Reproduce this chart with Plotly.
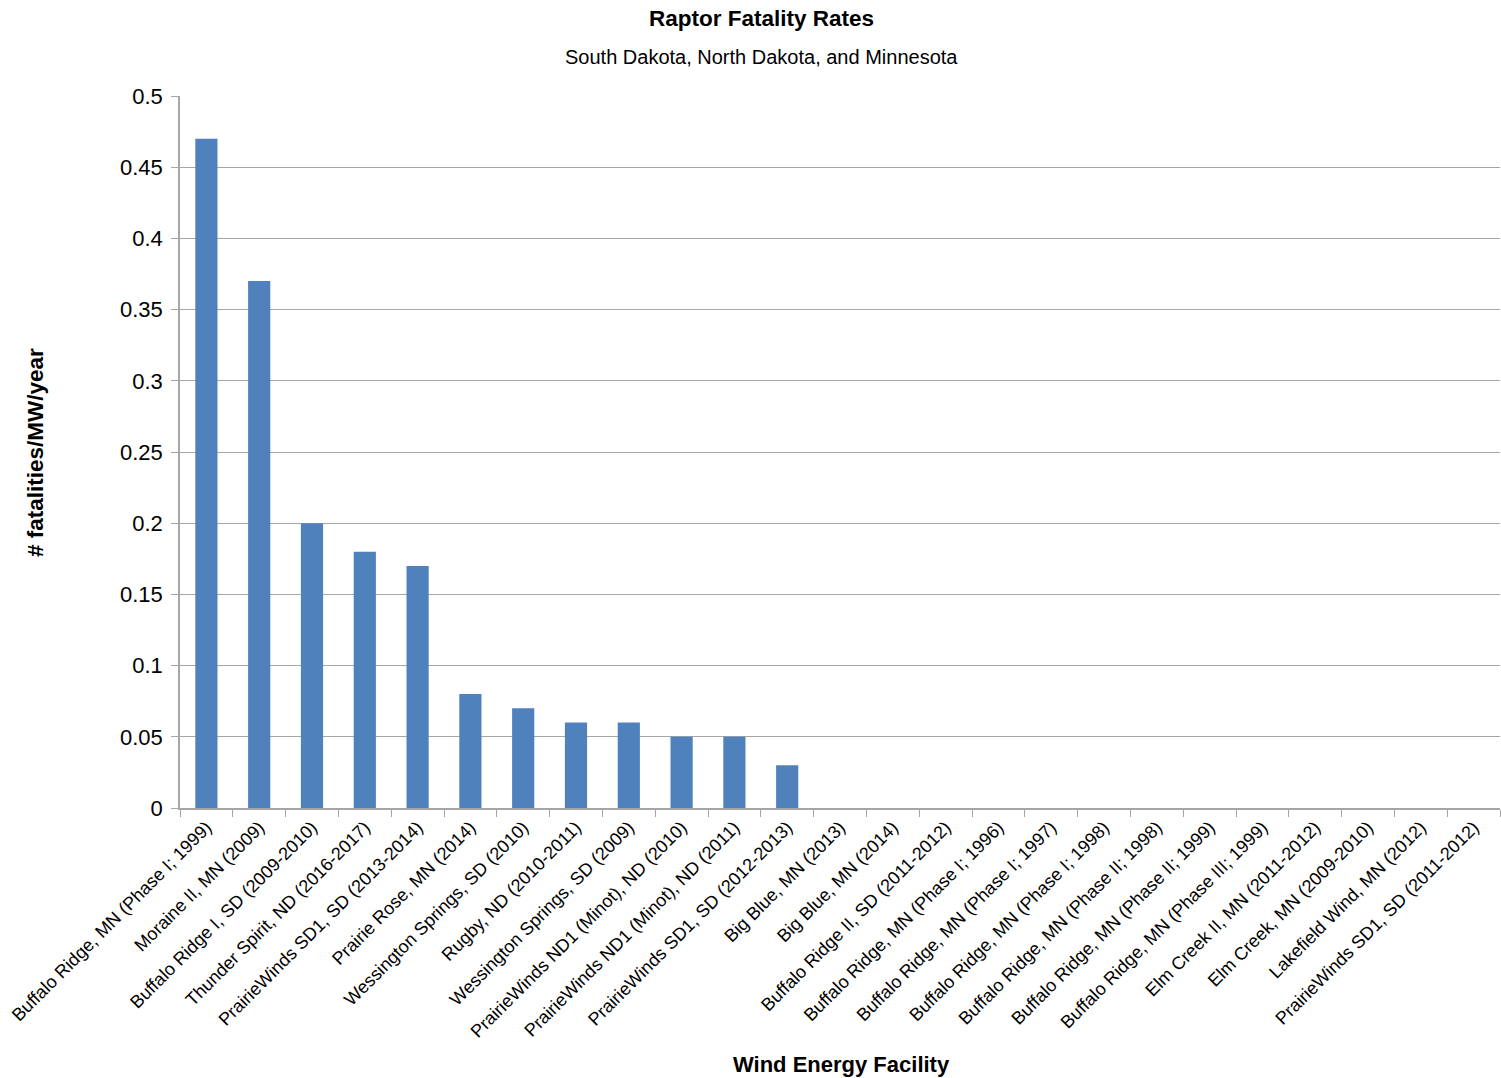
import plotly.graph_objects as go

facilities = [
    "Buffalo Ridge, MN (Phase I; 1999)",
    "Moraine II, MN (2009)",
    "Buffalo Ridge I, SD (2009-2010)",
    "Thunder Spirit, ND (2016-2017)",
    "PrairieWinds SD1, SD (2013-2014)",
    "Prairie Rose, MN (2014)",
    "Wessington Springs, SD (2010)",
    "Rugby, ND (2010-2011)",
    "Wessington Springs, SD (2009)",
    "PrairieWinds ND1 (Minot), ND (2010)",
    "PrairieWinds ND1 (Minot), ND (2011)",
    "PrairieWinds SD1, SD (2012-2013)",
    "Big Blue, MN (2013)",
    "Big Blue, MN (2014)",
    "Buffalo Ridge II, SD (2011-2012)",
    "Buffalo Ridge, MN (Phase I; 1996)",
    "Buffalo Ridge, MN (Phase I; 1997)",
    "Buffalo Ridge, MN (Phase I; 1998)",
    "Buffalo Ridge, MN (Phase II; 1998)",
    "Buffalo Ridge, MN (Phase II; 1999)",
    "Buffalo Ridge, MN (Phase III; 1999)",
    "Elm Creek II, MN (2011-2012)",
    "Elm Creek, MN (2009-2010)",
    "Lakefield Wind, MN (2012)",
    "PrairieWinds SD1, SD (2011-2012)",
]
rates = [0.47, 0.37, 0.20, 0.18, 0.17, 0.08, 0.07, 0.06, 0.06, 0.05, 0.05, 0.03,
         0, 0, 0, 0, 0, 0, 0, 0, 0, 0, 0, 0, 0]
y_ticks = [0, 0.05, 0.1, 0.15, 0.2, 0.25, 0.3, 0.35, 0.4, 0.45, 0.5]
y_tick_text = ["0", "0.05", "0.1", "0.15", "0.2", "0.25", "0.3", "0.35", "0.4", "0.45", "0.5"]

FONT = "Liberation Sans, Arial, sans-serif"

fig = go.Figure(go.Bar(x=facilities, y=rates, marker=dict(color="#4F81BD", line=dict(width=0))))

fig.update_layout(
    width=1501, height=1078,
    margin=dict(l=180, r=1, t=96, b=270),
    plot_bgcolor="white", paper_bgcolor="white",
    bargap=0.58,
    showlegend=False,
    font=dict(family=FONT, color="#000000"),
    xaxis=dict(
        tickangle=-45, tickfont=dict(size=18, family=FONT, color="#000000"),
        ticks="outside", tickson="boundaries", ticklen=7, tickcolor="#A6A6A6",
        showline=True, linecolor="#A6A6A6", linewidth=1.5,
        showgrid=False, automargin=False,
    ),
    yaxis=dict(
        range=[0, 0.5], tickvals=y_ticks, ticktext=y_tick_text,
        tickfont=dict(size=22, family=FONT, color="#000000"),
        ticks="outside", ticklen=7, tickcolor="#A6A6A6", ticklabelstandoff=4,
        showline=True, linecolor="#A6A6A6", linewidth=1.5,
        showgrid=True, gridcolor="#A6A6A6", gridwidth=1,
        zeroline=False, automargin=False,
    ),
)

H = 1078
plot_h = H - 96 - 270
def ypix(p):
    return (H - 270 - p) / plot_h
W = 1501
plot_w = W - 180 - 1
def xpix(p):
    return (p - 180) / plot_w

fig.layout.annotations = [
    dict(text="<b>Raptor Fatality Rates</b>", x=xpix(761), y=ypix(18), xref="paper", yref="paper",
         showarrow=False, font=dict(size=22.5, family=FONT), xanchor="center", yanchor="middle"),
    dict(text="South Dakota, North Dakota, and Minnesota", x=xpix(761), y=ypix(57), xref="paper", yref="paper",
         showarrow=False, font=dict(size=20, family=FONT), xanchor="center", yanchor="middle"),
    dict(text="<b>Wind Energy Facility</b>", x=xpix(842), y=ypix(1064), xref="paper", yref="paper",
         showarrow=False, font=dict(size=22, family=FONT), xanchor="center", yanchor="middle"),
    dict(text="<b># fatalities/MW/year</b>", x=xpix(36), y=ypix(453), xref="paper", yref="paper",
         showarrow=False, font=dict(size=22.5, family=FONT), textangle=-90, xanchor="center", yanchor="middle"),
]

fig.write_html("out.html")
